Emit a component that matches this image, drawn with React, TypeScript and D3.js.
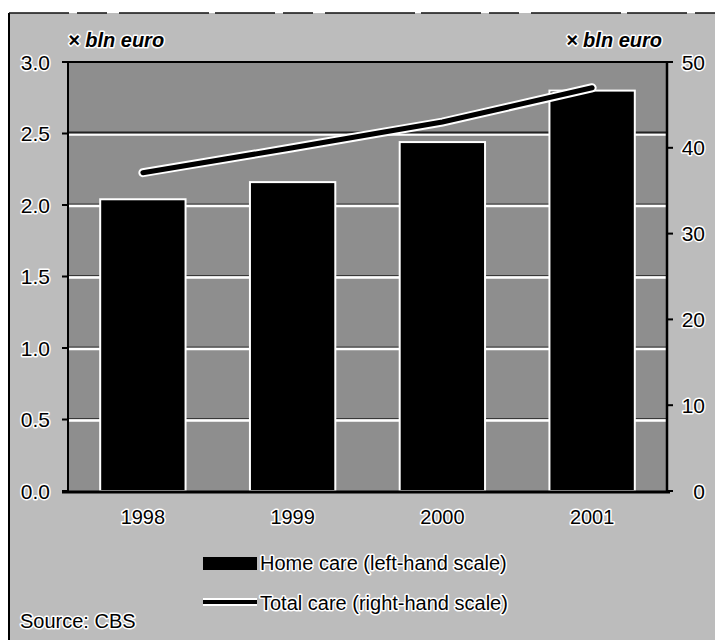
import React from "react";
import * as d3 from "d3";

const years = ["1998", "1999", "2000", "2001"];
const homeCare = [2.04, 2.16, 2.44, 2.8];
const totalCare = [37.1, 40.0, 43.0, 47.0];
const leftTicks = [0, 0.5, 1, 1.5, 2, 2.5, 3];
const rightTicks = [0, 10, 20, 30, 40, 50];
const unitLabel = "\u00d7 bln euro";
const legendLabels = ["Home care (left-hand scale)", "Total care (right-hand scale)"];
const sourceLabel = "Source: CBS";

const W = 715;
const H = 640;
const left = 68;
const right = 667;
const top = 62;
const bottom = 491;
const font = "'Liberation Sans', Arial, sans-serif";

const halo = {
  stroke: "#fff",
  strokeWidth: 3,
  paintOrder: "stroke",
  strokeLinejoin: "round",
} as React.CSSProperties;

export default function App() {
  const x = d3.scaleBand().domain(years).range([left, right]).paddingInner(0.43).paddingOuter(0.215);
  const yL = d3.scaleLinear().domain([0, 3]).range([bottom, top]);
  const yR = d3.scaleLinear().domain([0, 50]).range([bottom, top]);

  const line = d3
    .line<number>()
    .x((_, i) => (x(years[i]) as number) + x.bandwidth() / 2)
    .y((d) => yR(d));

  return (
    <svg
      width={W}
      height={H}
      style={{ position: "absolute", left: 0, top: 0, background: "#fff" }}
      fontFamily={font}
    >
      {/* page background + scan frame */}
      <rect x={9} y={13} width={W - 9} height={H - 13} fill="#bcbcbc" />
      <line x1={9} x2={9} y1={13} y2={H} stroke="#000" strokeWidth={2} />
      <line x1={9} x2={W} y1={13} y2={13} stroke="#111" strokeWidth={1.5} strokeDasharray="60 8 30 12 90 6" />

      {/* plot area */}
      <rect x={left} y={top} width={right - left} height={bottom - top} fill="#8e8e8e" />

      {/* gridlines */}
      {leftTicks.slice(1, -1).map((t) => (
        <g key={t}>
          <line x1={left} x2={right} y1={yL(t) + 1} y2={yL(t) + 1} stroke="#fff" strokeWidth={2.5} />
          <line x1={left} x2={right} y1={yL(t) - 1} y2={yL(t) - 1} stroke="#222" strokeWidth={t === 2.5 ? 2 : 0.8} />
        </g>
      ))}

      {/* bars */}
      {homeCare.map((v, i) => (
        <rect
          key={years[i]}
          x={x(years[i])}
          y={yL(v)}
          width={x.bandwidth()}
          height={yL(0) - yL(v)}
          fill="#000"
          stroke="#fff"
          strokeWidth={2}
        />
      ))}

      {/* total care line */}
      <path d={line(totalCare) || ""} fill="none" stroke="#fff" strokeWidth={9} strokeLinecap="round" />
      <path d={line(totalCare) || ""} fill="none" stroke="#000" strokeWidth={5} strokeLinecap="round" />

      {/* axes */}
      <line x1={left} x2={left} y1={top} y2={bottom} stroke="#000" strokeWidth={2} />
      <line x1={right} x2={right} y1={top} y2={bottom} stroke="#000" strokeWidth={2.5} />
      <line x1={left - 6} x2={right} y1={top} y2={top} stroke="#000" strokeWidth={2} />
      <line x1={left - 6} x2={right + 3} y1={bottom + 1} y2={bottom + 1} stroke="#000" strokeWidth={3} />

      {leftTicks.map((t) => (
        <g key={t}>
          <line x1={left - 6} x2={left} y1={yL(t)} y2={yL(t)} stroke="#000" strokeWidth={2} />
          <text x={50} y={yL(t)} dy="0.36em" textAnchor="end" fontSize={21} style={halo}>
            {d3.format(".1f")(t)}
          </text>
        </g>
      ))}
      {rightTicks.map((t) => (
        <g key={t}>
          <line x1={right} x2={right + 6} y1={yR(t)} y2={yR(t)} stroke="#000" strokeWidth={2} />
          <text x={705} y={yR(t)} dy="0.36em" textAnchor="end" fontSize={21} style={halo}>
            {t}
          </text>
        </g>
      ))}

      {years.map((yr) => (
        <text
          key={yr}
          x={(x(yr) as number) + x.bandwidth() / 2}
          y={524}
          textAnchor="middle"
          fontSize={20}
          style={halo}
        >
          {yr}
        </text>
      ))}

      {/* unit labels */}
      <text x={68} y={47} fontSize={20} fontWeight="bold" fontStyle="italic" style={halo}>
        {unitLabel}
      </text>
      <text x={662} y={47} fontSize={20} fontWeight="bold" fontStyle="italic" textAnchor="end" style={halo}>
        {unitLabel}
      </text>

      {/* legend */}
      <rect x={203} y={557} width={54} height={13} fill="#000" />
      <text x={260} y={570} fontSize={20} style={halo}>
        {legendLabels[0]}
      </text>
      <line x1={203} x2={257} y1={602} y2={602} stroke="#fff" strokeWidth={8} />
      <line x1={203} x2={257} y1={602} y2={602} stroke="#000" strokeWidth={4} />
      <text x={260} y={610} fontSize={20} style={halo}>
        {legendLabels[1]}
      </text>

      <text x={20} y={628} fontSize={20} style={halo}>
        {sourceLabel}
      </text>
    </svg>
  );
}
